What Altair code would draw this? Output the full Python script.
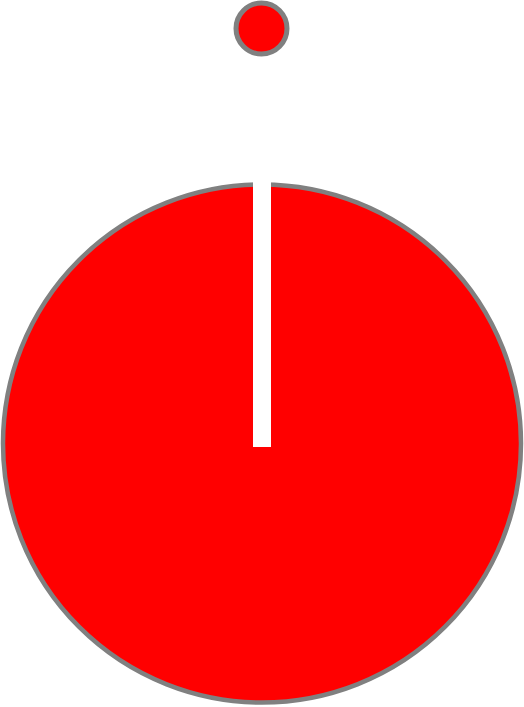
import altair as alt
import pandas as pd

# data
categories = ["A"]
values = [100]
needle_value = [0]
legend_items = ["A"]

CX, CY, R = 262, 443.5, 259

pie_df = pd.DataFrame({"category": categories, "value": values})
needle_df = pd.DataFrame({"needle": needle_value})
legend_df = pd.DataFrame({"category": legend_items})

color_scale = alt.Scale(domain=categories, range=["#ff0000"])

pie = alt.Chart(pie_df).mark_arc(
    outerRadius=R, stroke="#808080", strokeWidth=4.5
).encode(
    theta=alt.Theta("value:Q", stack=True),
    color=alt.Color("category:N", scale=color_scale, legend=None),
    x=alt.value(CX),
    y=alt.value(CY),
)

needle = alt.Chart(needle_df).mark_rule(
    color="white", strokeWidth=18
).encode(
    x=alt.value(CX),
    y=alt.value(CY + 3.5),
    y2=alt.value(CY - R - 10),
)

legend = alt.Chart(legend_df).mark_point(
    filled=True, shape="circle", size=2600, stroke="#808080", strokeWidth=5, opacity=1
).encode(
    color=alt.Color("category:N", scale=color_scale, legend=None),
    fill=alt.Fill("category:N", scale=color_scale, legend=None),
    x=alt.value(CX - 0.5),
    y=alt.value(28.5),
)

chart = alt.layer(pie, needle, legend).properties(
    width=524, height=707, padding=0,
    autosize=alt.AutoSizeParams(type="none"),
).configure_view(stroke=None)

chart.save("out.html", embed_options={"renderer": "svg", "actions": False})
